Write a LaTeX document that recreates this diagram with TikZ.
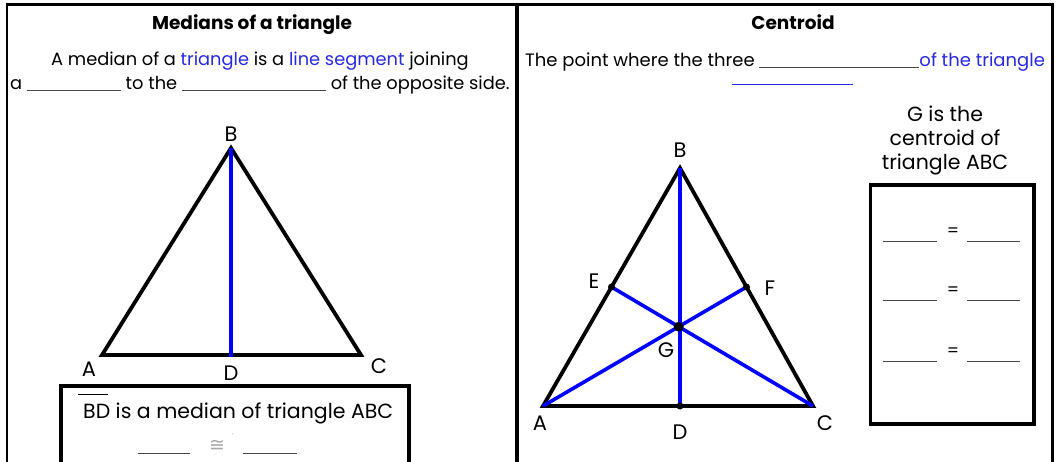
\documentclass[tikz,border=0pt]{standalone}
\usepackage{fontspec}
\usetikzlibrary{calc}
\setmainfont{Poppins}
\newfontfamily\dejavu{DejaVu Sans}
\definecolor{tblue}{RGB}{40,40,225}
\definecolor{blankc}{RGB}{70,70,70}
\newcommand{\blank}[1]{\textcolor{blankc}{\rule[-1pt]{#1}{0.9pt}}}
\begin{document}
\begin{tikzpicture}[x=1pt,y=-1pt,
  txt/.style={font=\fontsize{17.8}{21}\selectfont, inner sep=0pt, anchor=base west},
  big/.style={font=\fontsize{20.5}{24}\selectfont, inner sep=0pt},
  ttl/.style={font=\bfseries\fontsize{18.5}{22}\selectfont, inner sep=0pt, anchor=base},
  lbl/.style={font=\fontsize{21}{24}\selectfont, inner sep=0pt},
  eqs/.style={font=\fontsize{17}{20}\selectfont, inner sep=0pt},
  tri/.style={line width=3.8pt, line join=miter},
  med/.style={blue, line width=3.6pt},
  dotc/.style={circle, fill=black, inner sep=0pt, minimum size=#1},
  box/.style={line width=3.8pt}]
\useasboundingbox (0,0) rectangle (1059,462);
% frame
\draw[line width=1.5pt] (7,462) -- (7,4.5);
\draw[line width=3pt] (6,4.5) -- (1052.5,4.5) -- (1052.5,462);
\draw[line width=4pt] (517,4.5) -- (517,462);

% ---------- left panel ----------
\node[ttl] (t1) at (252,29.5) {Medians of a triangle};
\node[txt] (l2) at (51,66) {A median of a \textcolor{tblue}{triangle} is a \textcolor{tblue}{line segment} joining};
\node[txt] (l3) at (10,90) {a \blank{94pt} to the \blank{144pt} of the opposite side.};

\coordinate (lA) at (102,355);
\coordinate (lB) at (231,148);
\coordinate (lC) at (361,355);
\coordinate (lD) at (231,357);
\draw[tri] (lA) -- (lB) -- (lC) -- cycle;
\draw[med] (lB) -- (lD);
\node[lbl] (nlB) at (231,134) {B};
\node[lbl] (nlA) at (89,369) {A};
\node[lbl] (nlD) at (231,373) {D};
\node[lbl] (nlC) at (379,366) {C};

\draw[box] (61,470) -- (61,386) -- (409,386) -- (409,470);
\node[big, anchor=base west] (bd) at (83,418) {\makebox[0pt][l]{\hspace{-5pt}\raisebox{23.5pt}{\rule{30pt}{0.9pt}}}BD is a median of triangle ABC};
\node[txt] (cg1) at (138,453) {\blank{52pt}};
\node[lbl, text=gray!70, font=\fontsize{19}{22}\selectfont] (cong) at (217,446) {\dejavu ≅};
\node[lbl, text=gray!60, font=\fontsize{7}{8}\selectfont] (tick) at (233,436) {'};
\node[txt] (cg2) at (243,453) {\blank{54pt}};

% ---------- right panel ----------
\node[ttl] (t2) at (793,30) {Centroid};
\node[txt, font=\fontsize{18}{21}\selectfont] (r1) at (525,67) {The point where the three \blank{160pt}\textcolor{tblue}{of the triangle}};
\draw[tblue, line width=0.9pt] (732,84.5) -- (853,84.5);

\coordinate (A) at (543,406);
\coordinate (B) at (680,168);
\coordinate (C) at (813,406);
\coordinate (D) at (680,406);
\coordinate (E) at ($ (A)!0.5!(B) $);
\coordinate (F) at ($ (C)!0.5!(B) $);
\coordinate (G) at ($ (A)!0.6667!(F) $);
\draw[tri] (A) -- (B) -- (C) -- cycle;
\draw[med] (B) -- (D);
\draw[med] (A) -- (F);
\draw[med] (C) -- (E);
\node[dotc=7pt] (dE) at (E) {};
\node[dotc=7pt] (dF) at (F) {};
\node[dotc=7pt] (dD) at (D) {};
\node[dotc=10pt] (dG) at (G) {};
\node[lbl] (nB) at (680,150) {B};
\node[lbl] (nE) at (594,281) {E};
\node[lbl] (nF) at (770,288) {F};
\node[lbl] (nG) at (666,350) {G};
\node[lbl] (nA) at (540,423) {A};
\node[lbl] (nD) at (680,432) {D};
\node[lbl] (nC) at (825,423) {C};

\node[big, anchor=base] (g1) at (945,122) {G is the};
\node[big, anchor=base] (g2) at (945,146) {centroid of};
\node[big, anchor=base] (g3) at (945,170) {triangle ABC};

\draw[box] (870.5,185) rectangle (1034,424);
\foreach \yy/\nm in {241/ra,300/rb,361/rc}{
  \node[txt] (\nm1) at (883,\yy) {\blank{54pt}};
  \node[eqs] (\nm2) at (953,\yy-9) {=};
  \node[txt] (\nm3) at (967,\yy) {\blank{53pt}};
}
\end{tikzpicture}
\end{document}
